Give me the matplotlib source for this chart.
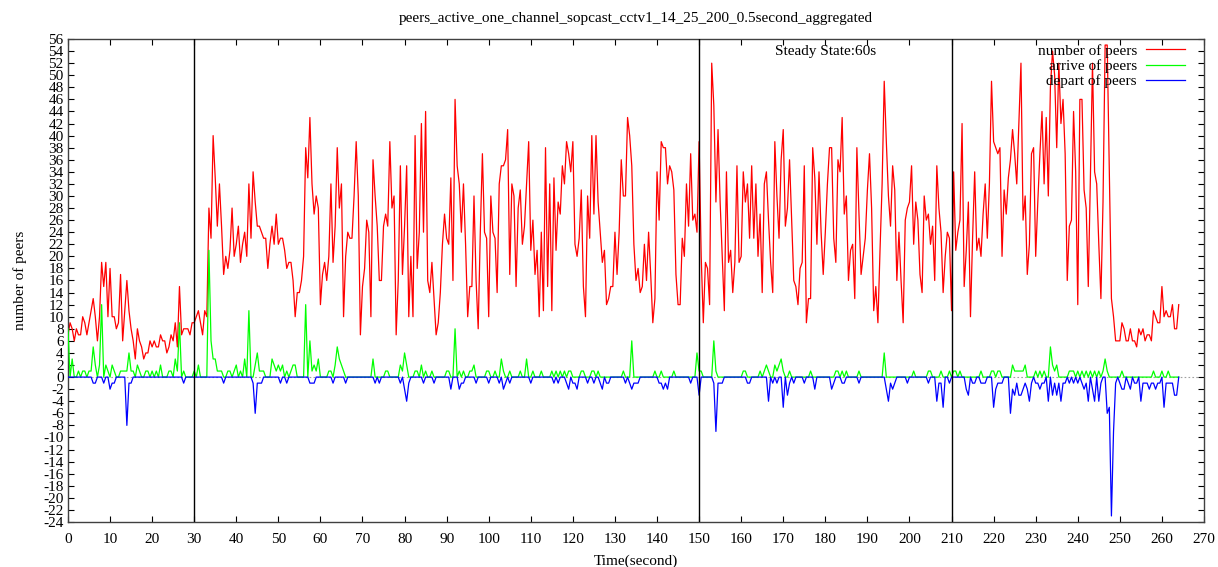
import numpy as np
import matplotlib
matplotlib.use("Agg")
import matplotlib.pyplot as plt

# samples every 0.5 s
number_of_peers = [
    7, 9, 8, 6, 8, 7, 7, 10, 9, 7, 9, 11, 13, 10, 6, 10,
    19, 15, 19, 10, 18, 10, 10, 8, 9, 17,
    6, 11, 16, 11, 8, 6, 3, 8, 6, 5,
    3, 4, 4, 6, 5, 6, 5, 5, 7, 6,
    6, 4, 5, 7, 6, 9, 5, 15, 7, 8,
    8, 8, 7, 9, 9, 10, 11, 9, 7, 11,
    10, 28, 23, 40, 33, 25, 32, 25, 17, 20,
    18, 21, 28, 20, 22, 25, 19, 22, 24, 20,
    32, 23, 34, 29, 25, 25,
    24, 23, 23, 18, 22, 25, 22, 27, 22, 23,
    23, 21, 18, 19, 19, 16, 10, 14, 14, 16,
    20, 38, 33, 43, 32, 27, 30, 28, 12, 17,
    19, 16, 20, 32, 19, 25, 38, 28, 32, 10,
    20, 24, 23, 23, 30, 39, 30, 7, 15, 18,
    26, 24, 10, 36, 30, 25, 16, 16, 25, 27,
    25, 39, 28, 30, 7, 16, 35, 17, 25, 35,
    10, 20, 10, 40, 18, 24, 42, 24, 44, 16,
    14, 19, 13, 7, 9, 14, 22, 27, 23, 22,
    33, 16, 46, 35, 32, 24, 32, 22, 10, 15,
    15, 30, 16, 8, 24, 37, 24, 23, 10, 30,
    24, 23, 14, 32, 35, 35, 36, 41, 17, 32,
    30, 15, 28, 31, 22, 25, 32, 39, 21, 26,
    17, 21, 10, 24, 11, 38, 15, 32, 11, 33,
    21, 29, 27, 35, 32, 39, 37, 34, 39, 22,
    20, 23, 31, 15, 10, 30, 23, 40, 27, 40,
    29, 24, 19, 21, 12, 13, 15, 15, 24, 17,
    24, 36, 30, 30, 43, 40, 35, 22, 16,
    18, 14, 15, 22, 16, 24, 17, 9, 13, 34,
    26, 39, 38, 38, 32, 35, 34, 31, 17, 12,
    12, 23, 20, 32, 25, 37, 26, 27, 24, 39,
    20, 9, 19, 18, 12, 52, 45, 29, 41, 29,
    20, 11, 34, 19, 21, 14, 19, 35, 19, 20,
    34, 29, 32, 23, 35, 23, 32, 20, 27, 14,
    32, 34, 26, 19, 14, 39, 30, 23, 36, 41,
    25, 28, 36, 26, 16, 15, 12, 18, 19, 35,
    9, 13, 13, 38, 33, 22, 34, 24, 17, 24,
    32, 38,
    38,
    23, 19, 36, 34, 43, 27, 30, 16, 21, 22,
    13, 38, 27, 17, 20, 23, 31, 37, 28, 11,
    15, 9, 21, 32, 49, 39, 30, 25, 35, 31,
    16, 24, 16, 9, 26, 28, 29, 35, 22, 29,
    26, 17, 14, 30, 26, 27, 22, 25, 16, 35,
    28, 24, 14, 20, 24, 23, 11, 34, 21, 24,
    26, 42, 15, 21, 29, 10, 23, 34, 21, 23,
    20, 27, 32, 23, 32, 49, 39, 38, 37, 38,
    20, 31, 27, 33, 36, 41, 37, 32, 42,
    52, 26, 30, 17, 22, 37, 38, 20, 29, 37,
    44, 32, 43, 30, 48, 54, 50, 38, 52, 42,
    46, 37, 16, 25, 26, 44, 34, 12, 46, 46,
    31, 28, 15, 33, 52, 34, 32, 22, 13, 29,
    55, 55, 34, 13, 10, 6, 6, 6, 9, 8,
    6, 6, 8, 6, 6, 5, 8, 7, 8, 6,
    7, 7, 6, 11, 10, 9, 9, 15, 10, 11,
    10, 10, 12, 8, 8, 12,
]

arrive_of_peers = [
    8, 0, 3, 0, 0, 1, 0, 1, 1, 0, 1, 1, 5, 2, 0, 2,
    12,
    0, 2, 1, 0, 2, 1, 0, 0, 1, 1,
    1, 1, 4, 1, 1, 0, 2, 1, 0, 0,
    1, 1, 0, 1, 0, 1, 0, 2, 0, 0,
    0, 1, 1, 0, 3, 1, 9, 0, 1, 0,
    0, 0, 0, 1, 0, 2, 0, 0, 0, 0,
    21, 6, 3, 3, 1, 1, 1, 0, 0, 1, 1, 0, 1, 2, 0, 1, 0, 3, 0, 11, 0, 0, 2, 4, 1,
    1, 1, 0, 0, 0, 3, 2, 1, 2, 1,
    2, 0, 1, 0, 1, 2, 2, 0, 0, 0,
    0, 12, 0, 6, 1, 2, 1, 3, 0, 0,
    0, 0, 1, 1, 0, 2, 5, 3, 2, 1,
    0, 0, 0, 0, 0, 0, 0, 0, 0, 0,
    0, 0, 0, 3, 0, 0, 0, 0, 0, 1,
    1, 0, 0, 0, 0, 0, 2, 1, 4, 2,
    0, 0, 0, 1, 1, 0, 2, 0, 1, 0,
    0, 1, 0, 0, 0, 0, 0, 0, 1, 1,
    0, 0, 8, 0, 1, 0, 1, 0, 0, 1,
    1, 2, 0, 0, 0, 0, 0, 1, 1, 0,
    0, 1, 0, 0, 3, 1, 0, 0, 1, 0,
    0, 0, 0, 1, 0, 0, 3, 0, 0, 1,
    0, 0, 0, 1, 0, 0, 0, 0, 1, 0,
    1, 0, 1, 0, 1, 0, 1, 1, 0, 0,
    0, 0, 1, 1, 0, 0, 0, 1, 1, 0,
    1, 0, 0, 0, 0, 0, 0, 0, 0, 0,
    0, 0, 1, 0, 0, 0, 6, 0, 0,
    0, 0, 0, 0, 0, 0, 0, 0, 1, 0,
    0, 1, 0, 0, 0, 0, 0, 1, 0, 0,
    0, 0, 0, 0, 0, 0, 0, 0, 4, 1,
    1, 0, 0, 0, 0, 0, 6, 1, 0, 0,
    0, 0, 0, 0, 0, 0, 0, 0, 0, 0,
    1, 1, 0, 0, 0, 0, 0, 0, 1, 0,
    1, 2, 1, 0, 0, 2, 1, 2, 3, 1,
    0, 0, 1, 0, 0, 0, 0, 0, 0, 0,
    0, 0, 1, 0, 0, 0, 0, 0, 0, 0,
    0, 0,
    0, 0, 1, 1, 0, 1, 0, 1, 0, 0,
    0, 0, 0, 1, 0, 0, 0, 0, 0, 0,
    0, 0, 0, 0, 0, 4, 0, 0, 0, 0,
    0, 0, 0, 0, 0, 0, 0, 0, 0, 1,
    0, 0, 0, 0, 0, 0, 1, 1, 0, 0,
    0, 0, 1, 0, 0, 0, 1, 0, 1, 1,
    0, 1, 0, 0, 0, 0, 0, 0, 0, 0,
    0, 1, 0, 0, 0, 0, 1, 1, 0, 1,
    1, 0, 0, 0, 0, 0, 2, 1, 1, 1,
    1, 1, 2, 0, 0, 0, 0, 1, 0, 1,
    0, 1, 0, 0, 5, 2, 1, 2, 0, 0,
    0, 0, 0, 1, 1, 1, 0, 1, 0, 1,
    0, 1, 0, 1, 0, 1, 0, 1, 0, 1,
    3, 1, 0, 0, 0, 0, 0, 0, 1, 0,
    0, 0, 0, 0, 0, 0, 0, 0, 0, 0,
    0, 0, 0, 1, 0, 0, 0, 1, 0, 0,
    1, 0, 0, 0, 0, 0,
]

depart_of_peers = [
    0, 0, 0, 0, 0, 0, 0, 0, 0, 0,
    0, 0, -1, -1, 0, 0, 0, -1, 0, 0,
    -2, -1, -1, 0, 0, 0, 0, 0, -8, -1,
    -1, 0, 0, 0, 0, 0, 0, 0, 0, 0,
    0, 0, 0, 0, 0, 0, 0, 0, 0, 0,
    0, 0, 0, 0, 0, -1, 0, 0, 0, 0,
    0, 0, 0, 0, 0, 0, 0, 0, 0, 0,
    0, 0, 0, 0, -1, 0, 0, 0, 0, 0,
    0, 0, 0, 0, 0, 0, 0, 0, -1, -6,
    -1, -1,
    -1, 0, 0, 0, 0, 0, 0, 0, 0, -1,
    0, 0, -1, 0, 0, 0, 0, 0, 0, 0,
    0, 0, 0, -1, -1, -1, 0, 0, 0, 0,
    0, 0, 0, 0, -1, 0, 0, 0, 0, 0,
    -1, 0, 0, 0, 0, 0, 0, 0, 0, 0,
    0, 0, 0, 0, -1, 0, -1, 0, 0, 0,
    0, 0, 0, 0, 0, 0, -1, 0, -2, -4,
    -1, 0, 0, 0, 0, 0, 0, -1, 0, 0,
    0, 0, -1, 0, 0, 0, 0, 0, 0, 0,
    -2, 0, 0, 0, -2, -1, -1, 0, 0, 0,
    0, 0, -1, 0, 0, 0, 0, 0, -1, 0,
    0, 0, 0, -1, 0, -2, -1, 0, -1, 0,
    0, 0, 0, 0, 0, 0, 0, 0, -1, 0,
    0, 0, 0, 0, 0, 0, 0, 0, 0, -1,
    0, -1, 0, 0, 0, -1, -2, 0, -1, -1,
    -2, 0, 0, 0, 0, -1, 0, 0, -1, 0,
    0, -1, -2, 0, -1, -1, 0, 0, 0, 0,
    0, 0, 0, -1, 0, -1, -2, -1, -1,
    -1, 0, 0, 0, 0, 0, 0, 0, 0, 0,
    -1, -1, -2, -1, -2, 0, 0, 0, 0, 0,
    0, 0, 0, 0, 0, -1, 0, 0, 0, -3,
    0, 0, 0, 0, 0, 0, -1, -9, -1, -1,
    -1, 0, 0, 0, 0, 0, 0, 0, 0, 0,
    0, 0, -1, -1, 0, 0, 0, 0, 0, 0,
    0, 0, -4, 0, -1, 0, -1, 0, 0, -5,
    0, -3, -1, 0, -1, 0, 0, 0, 0, -1,
    0, 0, 0, 0, -2, 0, 0, 0, 0, 0,
    0, 0,
    -2, -1, 0, 0, 0, -1, -1, 0, 0, 0,
    0, 0, 0, -1, 0, 0, 0, 0, 0, 0,
    0, 0, 0, 0, 0, 0, -2, -4, -1, -2,
    -1, 0, 0, 0, 0, 0, -1, 0, 0, 0,
    0, 0, 0, 0, 0, 0, -1, 0, 0, 0,
    -4, -1, -1, -5, 0, 0, -1, 0, 0, 0,
    0, 0, 0, 0, -2, -3, 0, -1, -1, 0,
    0, -1, -1, -1, 0, 0, 0, -5, -2, -1,
    -1, -1, 0, 0, 0,
    -6, -2, -3, -1, -3, -3, -2, -1, -2, -4,
    -1, 0, -1, -1, -2, -1, -1, 0, -4, 0,
    -3, -1, -3, -1, -4, -1, -1, 0, -1, 0,
    -1, 0, -1, 0, -1, -2, -1, -4, 0, -2,
    -4, 0, -4, -1, 0, 0, -6, -5, -23, -9,
    -1, 0, -1, -2, -2, 0, -1, -2, 0, -1,
    -1, 0, -4, -1, -1, -1, -2, -1, -1, -2,
    -1, -1, 0, -5, -1, -1, -1, -1, -3, -3,
    0,
]

phase_lines = [30, 150, 210]

plt.rcParams['font.family'] = ['Liberation Serif', 'DejaVu Serif']
plt.rcParams['font.size'] = 11
plt.rcParams['axes.unicode_minus'] = False

fig = plt.figure(figsize=(12.18, 5.67), dpi=100)
ax = fig.add_axes([0.0558, 0.0794, 0.9327, 0.8518])

t_red = np.arange(len(number_of_peers)) * 0.5
t_green = np.arange(len(arrive_of_peers)) * 0.5
t_blue = np.arange(len(depart_of_peers)) * 0.5

ax.axhline(0, color='#a0a0a0', lw=0.8, ls=(0, (1.5, 2)), zorder=1)
ax.plot(t_red, number_of_peers, color='#ff0000', lw=0.9, label='number of peers', zorder=2)
ax.plot(t_green, arrive_of_peers, color='#00ff00', lw=0.9, label='arrive of peers', zorder=3)
ax.plot(t_blue, depart_of_peers, color='#0000ff', lw=0.9, label='depart of peers', zorder=4)
for xv in phase_lines:
    ax.axvline(xv, color='black', lw=1.0, zorder=5)

ax.text(168, 54.0, 'Steady State:60s', ha='left', va='center')

ax.set_xlim(0, 270)
ax.set_ylim(-24, 56)
ax.set_xticks(np.arange(0, 271, 10))
ax.set_yticks(np.arange(-24, 57, 2))
ax.tick_params(axis='x', direction='in', top=True, length=4, width=0.8, pad=8)
ax.tick_params(axis='y', direction='in', right=True, length=4, width=0.8, pad=3)
for sp in ax.spines.values():
    sp.set_color('#404040')
    sp.set_linewidth(1.0)

ax.set_title('peers_active_one_channel_sopcast_cctv1_14_25_200_0.5second_aggregated',
             fontsize=11, pad=12.5)
ax.set_xlabel('Time(second)', labelpad=6)
ax.set_ylabel('number of peers', labelpad=12)

ax.legend(loc='upper right', frameon=False, markerfirst=False, handlelength=2.55,
          handletextpad=0.6, labelspacing=0.1, borderaxespad=0.0, borderpad=0.0,
          bbox_to_anchor=(0.9833, 0.990))

fig.savefig('out.png', dpi=100)
